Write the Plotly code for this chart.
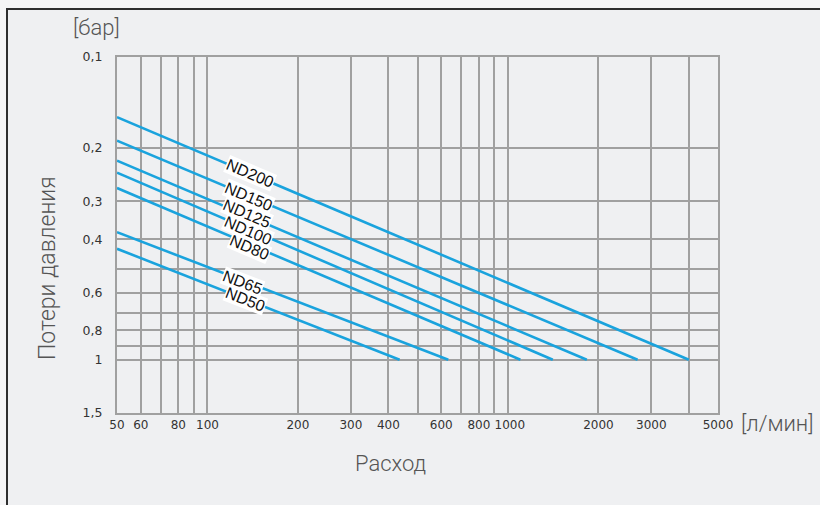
import numpy as np
import plotly.graph_objects as go

# ---- data ----
sizes = ["ND200", "ND150", "ND125", "ND100", "ND80", "ND65", "ND50"]
flow_start = [50, 50, 50, 50, 50, 50, 50]            # л/мин
drop_start = [0.158, 0.189, 0.220, 0.241, 0.271, 0.379, 0.430]  # бар
flow_end = [4000, 2700, 1830, 1410, 1100, 633, 436]  # л/мин
drop_end = [1.0, 1.0, 1.0, 1.0, 1.0, 1.0, 1.0]       # бар
label_flow = [139, 137, 135, 136, 138, 131, 134]     # where each ND label sits

x_tick_vals = [50, 60, 80, 100, 200, 300, 400, 600, 800, 1000, 2000, 3000, 5000]
x_tick_text = ["50", "60", "80", "100", "200", "300", "400", "600", "800", "1000", "2000", "3000", "5000"]
x_minor_vals = [70, 90, 500, 700, 900, 4000]
y_tick_vals = [0.1, 0.2, 0.3, 0.4, 0.6, 0.8, 1, 1.5]
y_tick_text = ["0,1", "0,2", "0,3", "0,4", "0,6", "0,8", "1", "1,5"]
y_minor_vals = [0.5, 0.7, 0.9]

# ---- layout geometry ----
W, H = 820, 505
ML, MR, MT, MB = 117, 102, 57, 92
PW, PH = W - ML - MR, H - MT - MB
X_RANGE = [np.log10(50), np.log10(5000)]
Y_RANGE = [np.log10(1.5), np.log10(0.1)]


def px(x):
    return (x - ML) / PW


def py(y):
    return (H - MB - y) / PH


LINE_COLOR = "#1aa3dd"
GRID_COLOR = "#a0a0a0"
LABEL_FONT = "Liberation Sans, Arial, sans-serif"
TICK_FONT = "DejaVu Sans, sans-serif"
label_shift = [0, 0, 2, -2, -3, -2, 0]   # small vertical nudges (px) to keep labels legible

fig = go.Figure()
xpd = PW / (X_RANGE[1] - X_RANGE[0])
ypd = PH / (Y_RANGE[0] - Y_RANGE[1])

annotations = []
for name, fs, ds, fe, de, lf, sh in zip(sizes, flow_start, drop_start, flow_end, drop_end,
                                        label_flow, label_shift):
    fig.add_trace(go.Scatter(
        x=[fs, fe], y=[ds, de], mode="lines", name=name,
        line=dict(color=LINE_COLOR, width=2.6), hoverinfo="skip", showlegend=False))
    slope = (np.log10(de) - np.log10(ds)) / (np.log10(fe) - np.log10(fs))
    ly = np.log10(ds) + (np.log10(lf) - np.log10(fs)) * slope
    ang = np.degrees(np.arctan(slope * ypd / xpd))
    annotations.append(dict(
        x=np.log10(lf), y=ly, xref="x", yref="y", text=name, showarrow=False,
        xanchor="center", yanchor="middle",
        textangle=ang, bgcolor="white", borderpad=0, yshift=sh,
        font=dict(family=LABEL_FONT, size=16, color="#111")))

title_font = dict(family="Roboto, Liberation Sans, sans-serif", color="#555", weight=300)
for txt, cx, cy, ang, size in [("[бар]", 96, 28, 0, 22), ("[л/мин]", 777, 423, 0, 22),
                               ("Потери давления", 47, 268, -90, 23),
                               ("Расход", 390, 463, 0, 22)]:
    annotations.append(dict(
        x=px(cx), y=py(cy), xref="paper", yref="paper", text=txt, showarrow=False,
        xanchor="center", yanchor="middle", textangle=ang,
        font=dict(**title_font, size=size)))

shapes = [
    dict(type="rect", xref="paper", yref="paper", layer="below",
         x0=px(7), x1=px(840), y0=py(530), y1=py(9),
         fillcolor="#eff0f2", line=dict(color="#2e2e2e", width=2)),
]

axis_common = dict(
    type="log", showgrid=True, gridcolor=GRID_COLOR, gridwidth=2,
    showline=True, linecolor=GRID_COLOR, linewidth=2, mirror=True,
    zeroline=False, ticks="", tickangle=0, automargin=False,
    fixedrange=True,
)

# the "1000" label in the reference sits a little to the right of its grid line
x_tick_disp = ["\u00a0" + t if t == "1000" else t for t in x_tick_text]

fig.update_layout(
    width=W, height=H,
    margin=dict(l=ML, r=MR, t=MT, b=MB),
    paper_bgcolor="#f5f5f6", plot_bgcolor="rgba(0,0,0,0)",
    xaxis=dict(**axis_common, range=X_RANGE, tickmode="array",
               tickvals=x_tick_vals, ticktext=x_tick_disp, ticklabelstandoff=0,
               tickfont=dict(family=TICK_FONT, size=12, color="#333"),
               minor=dict(tickmode="array", tickvals=x_minor_vals, showgrid=True,
                          gridcolor=GRID_COLOR, gridwidth=2, ticks="")),
    yaxis=dict(**axis_common, range=Y_RANGE, tickmode="array",
               tickvals=y_tick_vals, ticktext=y_tick_text, ticklabelstandoff=10,
               tickfont=dict(family=TICK_FONT, size=12.5, color="#333"),
               minor=dict(tickmode="array", tickvals=y_minor_vals, showgrid=True,
                          gridcolor=GRID_COLOR, gridwidth=2, ticks="")),
    annotations=annotations,
    shapes=shapes,
    showlegend=False,
)

fig.write_html(
    "out.html",
    config={"displayModeBar": False},
    post_script=("document.body.style.margin='0';document.body.style.padding='0';"
                 "document.body.style.background='#f5f5f6';"
                 "document.body.style.overflow='hidden';"),
)
